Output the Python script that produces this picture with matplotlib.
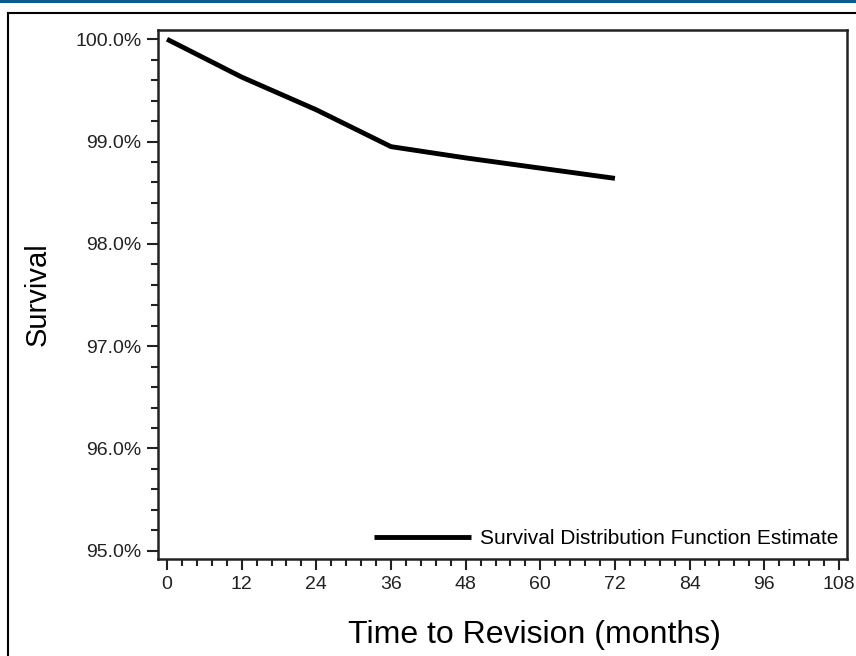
import matplotlib.pyplot as plt
import matplotlib.ticker as ticker
from matplotlib.lines import Line2D

plt.rcParams['font.family'] = ['Liberation Sans', 'DejaVu Sans']

# Kaplan-Meier survival estimate
months = [0, 12, 24, 36, 48, 60, 72]
survival = [100.0, 99.63, 99.31, 98.95, 98.84, 98.74, 98.64]

x_ticks = [0, 12, 24, 36, 48, 60, 72, 84, 96, 108]
y_ticks = [95.0, 96.0, 97.0, 98.0, 99.0, 100.0]

fig = plt.figure(figsize=(8.56, 6.56), dpi=100)

# page decorations: blue strip on top and black frame lines
fig.add_artist(plt.Rectangle((0, 1 - 3 / 656), 1, 3 / 656, transform=fig.transFigure,
                             color='#0b5b8c', lw=0))
fig.add_artist(Line2D([8 / 856, 1], [1 - 13 / 656] * 2, transform=fig.transFigure,
                      color='black', lw=1.5))
fig.add_artist(Line2D([8 / 856] * 2, [0, 1 - 13 / 656], transform=fig.transFigure,
                      color='black', lw=1.5))

ax = fig.add_axes([158 / 856, 1 - 559 / 656, (847 - 158) / 856, (559 - 30) / 656])
ax.plot(months, survival, color='black', lw=3.5, solid_capstyle='butt',
        label='Survival Distribution Function Estimate')

ax.set_xlim(-1.45, 109.3)
ax.set_ylim(94.92, 100.09)
ax.set_xticks(x_ticks)
ax.set_yticks(y_ticks)
ax.yaxis.set_major_formatter(ticker.FuncFormatter(lambda v, p: f'{v:.1f}%'))
ax.xaxis.set_minor_locator(ticker.MultipleLocator(2.4))
ax.yaxis.set_minor_locator(ticker.MultipleLocator(0.2))
ax.tick_params(which='major', length=8, width=1.5, labelsize=14, colors='#222222',
               labelcolor='#222222', pad=4)
ax.tick_params(which='minor', length=5, width=1.5, colors='#222222')
for s in ax.spines.values():
    s.set_linewidth(1.8)
    s.set_color('#222222')

ax.set_ylabel('Survival', fontsize=21, labelpad=17)
ax.set_xlabel('Time to Revision (months)', fontsize=23, labelpad=20, x=0.546)

ax.legend(loc='lower right', frameon=False, fontsize=15, handlelength=4.65,
          handletextpad=0.45, borderaxespad=0.0, bbox_to_anchor=(1.0, 0.005))

plt.savefig('out.png', dpi=100)
